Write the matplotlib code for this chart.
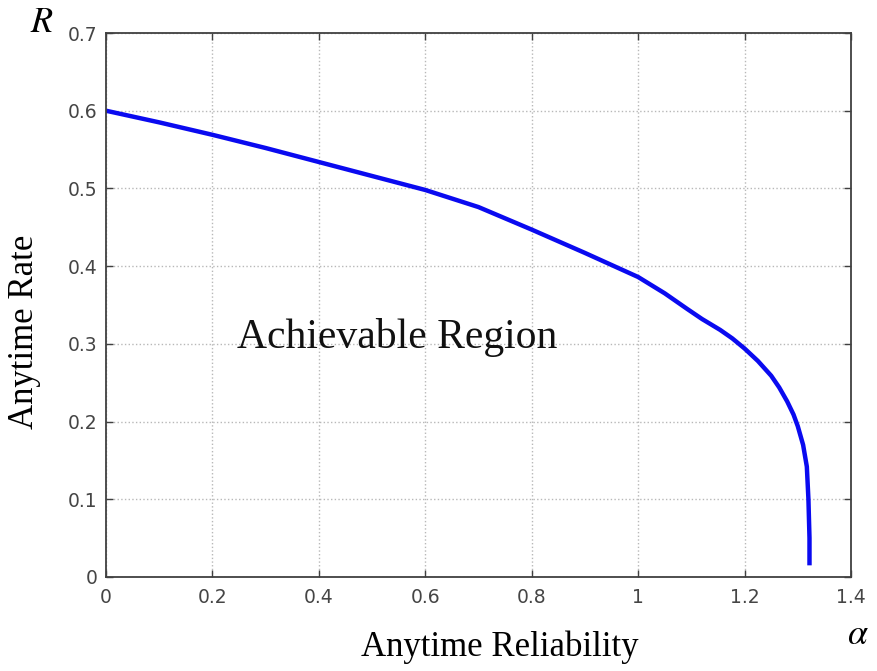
import numpy as np
import matplotlib.pyplot as plt

# Boundary of the achievable region
alpha = [0.0, 0.1, 0.2, 0.3, 0.4, 0.5, 0.6, 0.7, 0.8, 0.9, 1.0, 1.05,
         1.092, 1.12, 1.154, 1.177, 1.2, 1.225, 1.25, 1.265, 1.28, 1.292,
         1.30, 1.31, 1.317, 1.32, 1.322, 1.322]
rate = [0.600, 0.585, 0.569, 0.552, 0.534, 0.516, 0.498, 0.476, 0.447, 0.417,
        0.386, 0.365, 0.345, 0.332, 0.318, 0.307, 0.294, 0.278, 0.259, 0.244,
        0.226, 0.209, 0.194, 0.170, 0.142, 0.100, 0.050, 0.015]

xticks = [0, 0.2, 0.4, 0.6, 0.8, 1, 1.2, 1.4]
xtick_labels = ['0', '0.2', '0.4', '0.6', '0.8', '1', '1.2', '1.4']
yticks = [0, 0.1, 0.2, 0.3, 0.4, 0.5, 0.6, 0.7]
ytick_labels = ['0', '0.1', '0.2', '0.3', '0.4', '0.5', '0.6', '0.7']

serif = 'Liberation Serif'
sans = 'DejaVu Sans'

fig = plt.figure(figsize=(8.78, 6.71), dpi=100)
ax = fig.add_axes([106 / 878, 1 - 577 / 671, 745 / 878, 544 / 671])

ax.plot(alpha, rate, color='#0a0af0', lw=3.2, solid_capstyle='butt',
        solid_joinstyle='round')

ax.set_xlim(0, 1.4)
ax.set_ylim(0, 0.7)
ax.set_xticks(xticks)
ax.set_xticklabels(xtick_labels)
ax.set_yticks(yticks)
ax.set_yticklabels(ytick_labels)

ax.grid(True, linestyle=':', color='#b8b8b8', lw=1.0)
for s in ax.spines.values():
    s.set_color('#404040')
    s.set_linewidth(1.3)
ax.tick_params(direction='in', length=5, width=1, color='#404040',
               top=True, right=True, labelcolor='#454545', labelsize=13.5)
ax.tick_params(axis='x', pad=8)
ax.tick_params(axis='y', pad=6)
for lab in ax.get_xticklabels() + ax.get_yticklabels():
    lab.set_family(sans)

ax.text(0.246, 0.308, 'Achievable Region', family=serif, fontsize=30,
        va='center', ha='left', color='#111111')

fig.text(500 / 878, 1 - 647 / 671, 'Anytime Reliability', family=serif,
         fontsize=25, ha='center', va='center')
fig.text(25 / 878, 1 - 332 / 671, 'Anytime Rate', family=serif,
         fontsize=25, ha='center', va='center', rotation=90)
fig.text(42 / 878, 1 - 22 / 671, r'$R$', fontsize=26, ha='center',
         va='center', math_fontfamily='stix')
fig.text(858 / 878, 1 - 634 / 671, r'$\alpha$', fontsize=26, ha='center',
         va='center', math_fontfamily='stix')

fig.savefig('out.png', dpi=100)
